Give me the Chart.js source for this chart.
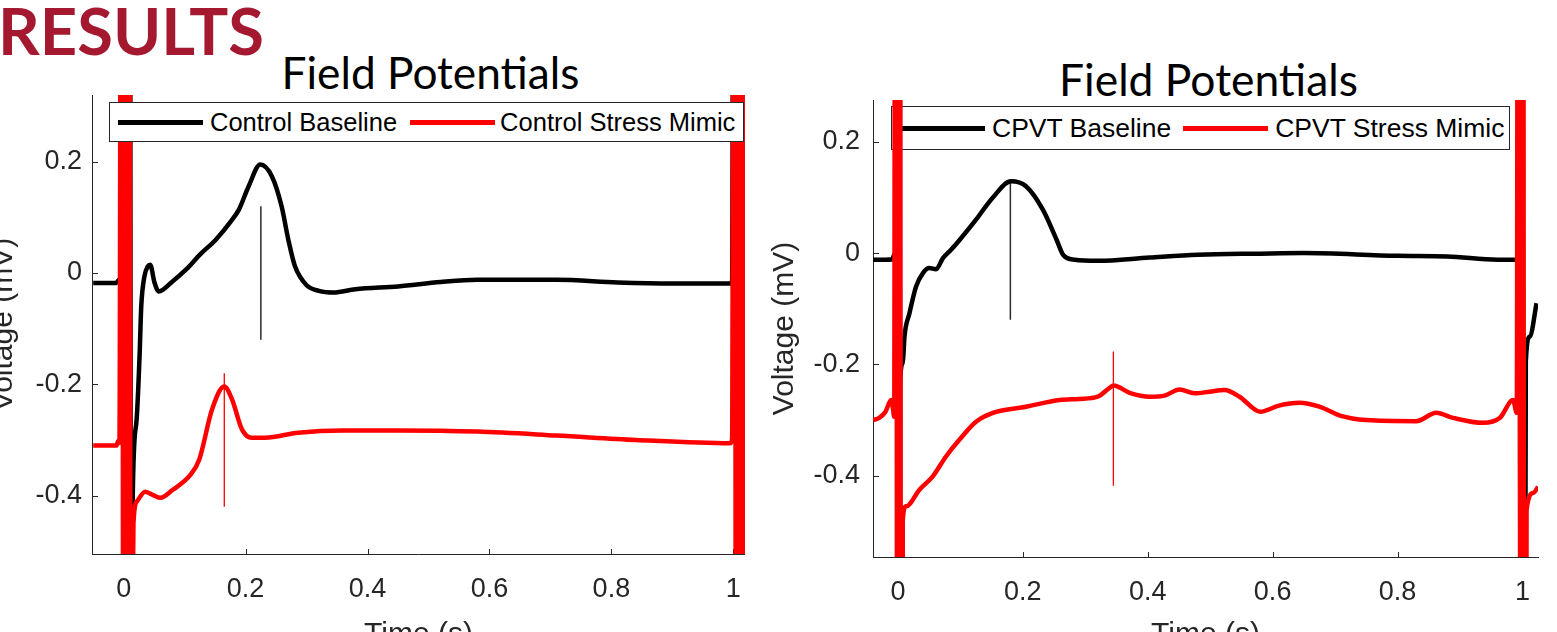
<!DOCTYPE html>
<html>
<head>
<meta charset="utf-8">
<title>Field Potentials</title>
<script src="https://cdn.jsdelivr.net/npm/chart.js@4.4.1/dist/chart.umd.min.js"></script>
<style>
html, body { margin: 0; padding: 0; background: #fff; }
body { position: relative; width: 1557px; height: 632px; overflow: hidden; }
.panel { position: absolute; top: 0; height: 700px; z-index: 1; }
.panel canvas { display: block; }
.txt { position: absolute; white-space: nowrap; line-height: 1; font-family: Lato, 'Open Sans', sans-serif; }
#heading { font-weight: 700; color: #a51930; }
.title { color: #000; }
.legend { position: absolute; box-sizing: border-box; background: #fff; border: 1px solid #262626;
  display: flex; align-items: center; white-space: nowrap; color: #000;
  font-family: 'Liberation Sans', Arial, Helvetica, sans-serif; }
.legend .sw { display: inline-block; width: 85px; height: 5px; }
</style>
</head>
<body>
<div class="txt" id="heading">RESULTS</div>
<div class="txt title" id="title1">Field Potentials</div>
<div class="txt title" id="title2">Field Potentials</div>

<div class="panel" id="p1" style="left:-40px;width:800px"><canvas id="ctrl" width="800" height="700"></canvas></div>
<div class="panel" id="p2" style="left:760px;width:797px"><canvas id="cpvt" width="797" height="700"></canvas></div>

<div class="legend" id="leg1" style="left:109px;top:102px;width:635px;height:40px;font-size:25.5px;z-index:2"></div>
<div class="legend" id="leg2" style="left:891px;top:106px;width:619px;height:44px;font-size:26.5px;z-index:0"></div>

<script>
// axis ticks
const xTicks = [0, 0.2, 0.4, 0.6, 0.8, 1];
const yTicks = [-0.4, -0.2, 0, 0.2];

const ctrlNames = ['Control Baseline', 'Control Stress Mimic'];
const cpvtNames = ['CPVT Baseline', 'CPVT Stress Mimic'];

// control, baseline (time s, voltage mV); the +-2 values are the off-scale stimulus artifact
const ctrlBaseT = [-0.05, -0.03, -0.012, -0.008, -0.005, -0.002, 0.004, 0.009, 0.0125, 0.0147, 0.0207, 0.026,
  0.0288, 0.034, 0.0396, 0.0435, 0.0505, 0.0575, 0.08, 0.102, 0.125, 0.151, 0.178, 0.189, 0.205, 0.224, 0.243,
  0.259, 0.27, 0.281, 0.3, 0.32, 0.344, 0.38, 0.45, 0.52, 0.58, 0.65, 0.71, 0.81, 0.9, 0.995, 0.998, 1.002,
  1.007, 1.012, 1.016];
const ctrlBaseV = [-0.018, -0.018, -0.018, -0.012, -0.012, 2, -2, 2, -1, -0.41, -0.27, -0.15,
  -0.06, -0.006, 0.012, 0.015, -0.017, -0.033, -0.015, 0.006, 0.033, 0.06, 0.096, 0.114, 0.156, 0.195, 0.174,
  0.12, 0.06, 0.012, -0.022, -0.032, -0.035, -0.029, -0.024, -0.016, -0.012, -0.012, -0.012, -0.017, -0.019, -0.019, -0.014, 2,
  -2, 2, -2];

// control, stress mimic
const ctrlStressT = [-0.05, -0.03, -0.012, -0.009, -0.007, -0.003, 0, 0.003, 0.006, 0.009, 0.0115, 0.016,
  0.022, 0.035, 0.05, 0.06, 0.08, 0.11, 0.124, 0.145, 0.165, 0.178, 0.194, 0.21, 0.232, 0.286, 0.36, 0.45,
  0.58, 0.71, 0.84, 0.995, 0.998, 1.002, 1.005, 1.008, 1.011, 1.014, 1.017];
const ctrlStressV = [-0.31, -0.31, -0.31, -0.302, -0.305, 2, -2, 2, -2, 2, -1, -0.45,
  -0.41, -0.393, -0.4, -0.404, -0.39, -0.362, -0.335, -0.245, -0.204, -0.228, -0.281, -0.296, -0.296, -0.287, -0.283, -0.283,
  -0.285, -0.292, -0.3, -0.306, -0.298, 2, -2, 2, -2, 2, -2];

// CPVT, baseline
const cpvtBaseT = [-0.04, -0.02, -0.009, -0.006, -0.001, 0, 0.0035, 0.0077, 0.0104, 0.0184, 0.029, 0.04, 0.05,
  0.061, 0.072, 0.085, 0.099, 0.125, 0.152, 0.181, 0.205, 0.232, 0.254, 0.265, 0.283, 0.32, 0.403, 0.48,
  0.58, 0.65, 0.8, 0.88, 0.96, 0.99, 0.9955, 0.9995, 1.0055, 1.012, 1.0227];
const cpvtBaseV = [-0.012, -0.012, -0.011, -0.003, -0.004, -3, -0.23, -0.198, -0.15, -0.108, -0.06, -0.036, -0.027,
  -0.029, -0.009, 0.006, 0.024, 0.06, 0.1, 0.129, 0.12, 0.078, 0.024, -0.004, -0.012, -0.014, -0.008, -0.003,
  -0.001, 0, -0.005, -0.006, -0.012, -0.012, -0.005, -3, -0.195, -0.15, -0.09];

// CPVT, stress mimic
const cpvtStressT = [-0.04, -0.03, -0.02, -0.011, -0.008, -0.006, -0.0035, -0.0005, 0.0025, 0.0055, 0.0077, 0.013,
  0.0345, 0.0558, 0.0772, 0.0986, 0.125, 0.152, 0.205, 0.259, 0.29, 0.32, 0.339, 0.345, 0.371, 0.403, 0.427,
  0.451, 0.475, 0.499, 0.523, 0.547, 0.58, 0.61, 0.643, 0.675, 0.708, 0.75, 0.83, 0.862, 0.889, 0.937, 0.964,
  0.985, 0.991, 0.9945, 0.9975, 1.0005, 1.0035, 1.0067, 1.0174, 1.025];
const cpvtStressV = [-0.3, -0.296, -0.285, -0.264, -0.28, -0.294, 3, -3, 3, -3, -0.479, -0.455,
  -0.425, -0.401, -0.365, -0.335, -0.303, -0.287, -0.276, -0.264, -0.262, -0.258, -0.242, -0.238, -0.251, -0.258, -0.256,
  -0.245, -0.252, -0.249, -0.246, -0.258, -0.285, -0.274, -0.269, -0.276, -0.292, -0.3, -0.302, -0.287, -0.296, -0.305, -0.296,
  -0.264, -0.287, 3, -3, 3, -3, -0.461, -0.431, -0.42];

// thin peak markers
const ctrlBaseMarkT = [0.225, 0.225], ctrlBaseMarkV = [0.12, -0.12];
const ctrlStressMarkT = [0.165, 0.165], ctrlStressMarkV = [-0.18, -0.42];
const cpvtBaseMarkT = [0.18, 0.18], cpvtBaseMarkV = [0.129, -0.12];
const cpvtStressMarkT = [0.345, 0.345], cpvtStressMarkV = [-0.177, -0.418];

const AXIS_FONT = "'Liberation Sans', Arial, Helvetica, sans-serif";
const INK = '#262626';
const BLACK = '#000000', RED = '#ff0000';

function pts(ts, vs) { return ts.map((t, i) => ({ x: t, y: vs[i] })); }

// matlab style ticks pointing into the plot
const inwardTicks = {
  id: 'inwardTicks',
  beforeDatasetsDraw(chart) {
    const { ctx, chartArea: a, scales: { x, y } } = chart;
    ctx.save();
    ctx.strokeStyle = INK;
    ctx.lineWidth = 1;
    ctx.beginPath();
    x.ticks.forEach(t => {
      const px = Math.round(x.getPixelForValue(t.value)) + 0.5;
      ctx.moveTo(px, a.bottom); ctx.lineTo(px, a.bottom - 5);
    });
    y.ticks.forEach(t => {
      const py = Math.round(y.getPixelForValue(t.value)) + 0.5;
      ctx.moveTo(a.left, py); ctx.lineTo(a.left + 6, py);
    });
    ctx.stroke();
    ctx.restore();
  }
};

function panel(id, p) {
  const trace = (data, color, order) => ({ data, borderColor: color, borderWidth: 4.5, order,
    cubicInterpolationMode: 'monotone', pointRadius: 0 });
  const mark = (data, color, w) => ({ data, borderColor: color, borderWidth: w, order: 2, tension: 0, pointRadius: 0 });
  return new Chart(document.getElementById(id), {
    type: 'line',
    data: {
      datasets: [
        trace(p.base, BLACK, 1),
        trace(p.stress, RED, 0),
        mark(p.baseMark, '#2b2b2b', 1.5),
        mark(p.stressMark, RED, 1.3)
      ]
    },
    plugins: [inwardTicks],
    options: {
      responsive: false,
      animation: false,
      events: [],
      layout: { padding: { left: 0, top: p.top, right: p.right, bottom: 0 } },
      plugins: { legend: { display: false }, tooltip: { enabled: false } },
      scales: {
        x: {
          type: 'linear', min: p.xMin, max: p.xMax, bounds: 'data',
          grid: { display: false, drawTicks: false },
          border: { display: true, color: INK, width: 1 },
          afterBuildTicks: s => { s.ticks = xTicks.map(v => ({ value: v })); },
          afterFit: s => { s.height = p.xHeight; },
          ticks: { color: INK, padding: 19, maxRotation: 0, autoSkip: false,
            font: { family: AXIS_FONT, size: 27 }, callback: v => String(v) },
          title: { display: true, text: 'Time (s)', color: INK,
            font: { family: AXIS_FONT, size: 30 }, padding: { top: 0, bottom: 47 } }
        },
        y: {
          type: 'linear', min: p.yMin, max: p.yMax, bounds: 'data',
          grid: { display: false, drawTicks: false },
          border: { display: true, color: INK, width: 1 },
          afterBuildTicks: s => { s.ticks = yTicks.map(v => ({ value: v })); },
          afterFit: s => { s.width = p.yWidth; },
          ticks: { color: INK, padding: p.yTickPad, font: { family: AXIS_FONT, size: 27 }, callback: v => String(v) },
          title: { display: true, text: 'Voltage (mV)', color: INK,
            font: { family: AXIS_FONT, size: 30 }, padding: { top: p.yTitlePad, bottom: 0 } }
        }
      }
    }
  });
}

panel('ctrl', {
  base: pts(ctrlBaseT, ctrlBaseV), stress: pts(ctrlStressT, ctrlStressV),
  baseMark: pts(ctrlBaseMarkT, ctrlBaseMarkV), stressMark: pts(ctrlStressMarkT, ctrlStressMarkV),
  xMin: -0.052, xMax: 1.019, yMin: -0.505, yMax: 0.32,
  top: 95, right: 10, yWidth: 132, xHeight: 146, yTickPad: 10, yTitlePad: 26
});

panel('cpvt', {
  base: pts(cpvtBaseT, cpvtBaseV), stress: pts(cpvtStressT, cpvtStressV),
  baseMark: pts(cpvtBaseMarkT, cpvtBaseMarkV), stressMark: pts(cpvtStressMarkT, cpvtStressMarkV),
  xMin: -0.04, xMax: 1.025, yMin: -0.546, yMax: 0.275,
  top: 100, right: 19, yWidth: 113, xHeight: 143, yTickPad: 13, yTitlePad: 7
});

// legends drawn inside the plot box
function legend(id, names, gaps) {
  const box = document.getElementById(id);
  [BLACK, RED].forEach((c, i) => {
    const sw = document.createElement('span');
    sw.className = 'sw';
    sw.style.background = c;
    sw.style.marginLeft = gaps[i * 2] + 'px';
    const tx = document.createElement('span');
    tx.textContent = names[i];
    tx.style.marginLeft = gaps[i * 2 + 1] + 'px';
    box.appendChild(sw);
    box.appendChild(tx);
  });
}
legend('leg1', ctrlNames, [8, 7, 13, 5]);
legend('leg2', cpvtNames, [8, 7, 12, 7]);

// fit slide texts to their width and put them on a baseline
function fitText(id, width, baseline, center) {
  const el = document.getElementById(id);
  el.style.fontSize = '100px';
  const size = 100 * width / el.getBoundingClientRect().width;
  el.style.fontSize = size + 'px';
  const probe = document.createElement('span');
  probe.style.cssText = 'display:inline-block;width:0;height:0;vertical-align:baseline';
  el.appendChild(probe);
  const r = el.getBoundingClientRect();
  const off = probe.getBoundingClientRect().top - r.top;
  el.style.top = (baseline - off) + 'px';
  el.style.left = (center === null ? -2 : center - r.width / 2) + 'px';
}
fitText('heading', 266, 55, null);
fitText('title1', 298, 88.5, 430.5);
fitText('title2', 299, 95.5, 1208.5);
</script>
</body>
</html>
